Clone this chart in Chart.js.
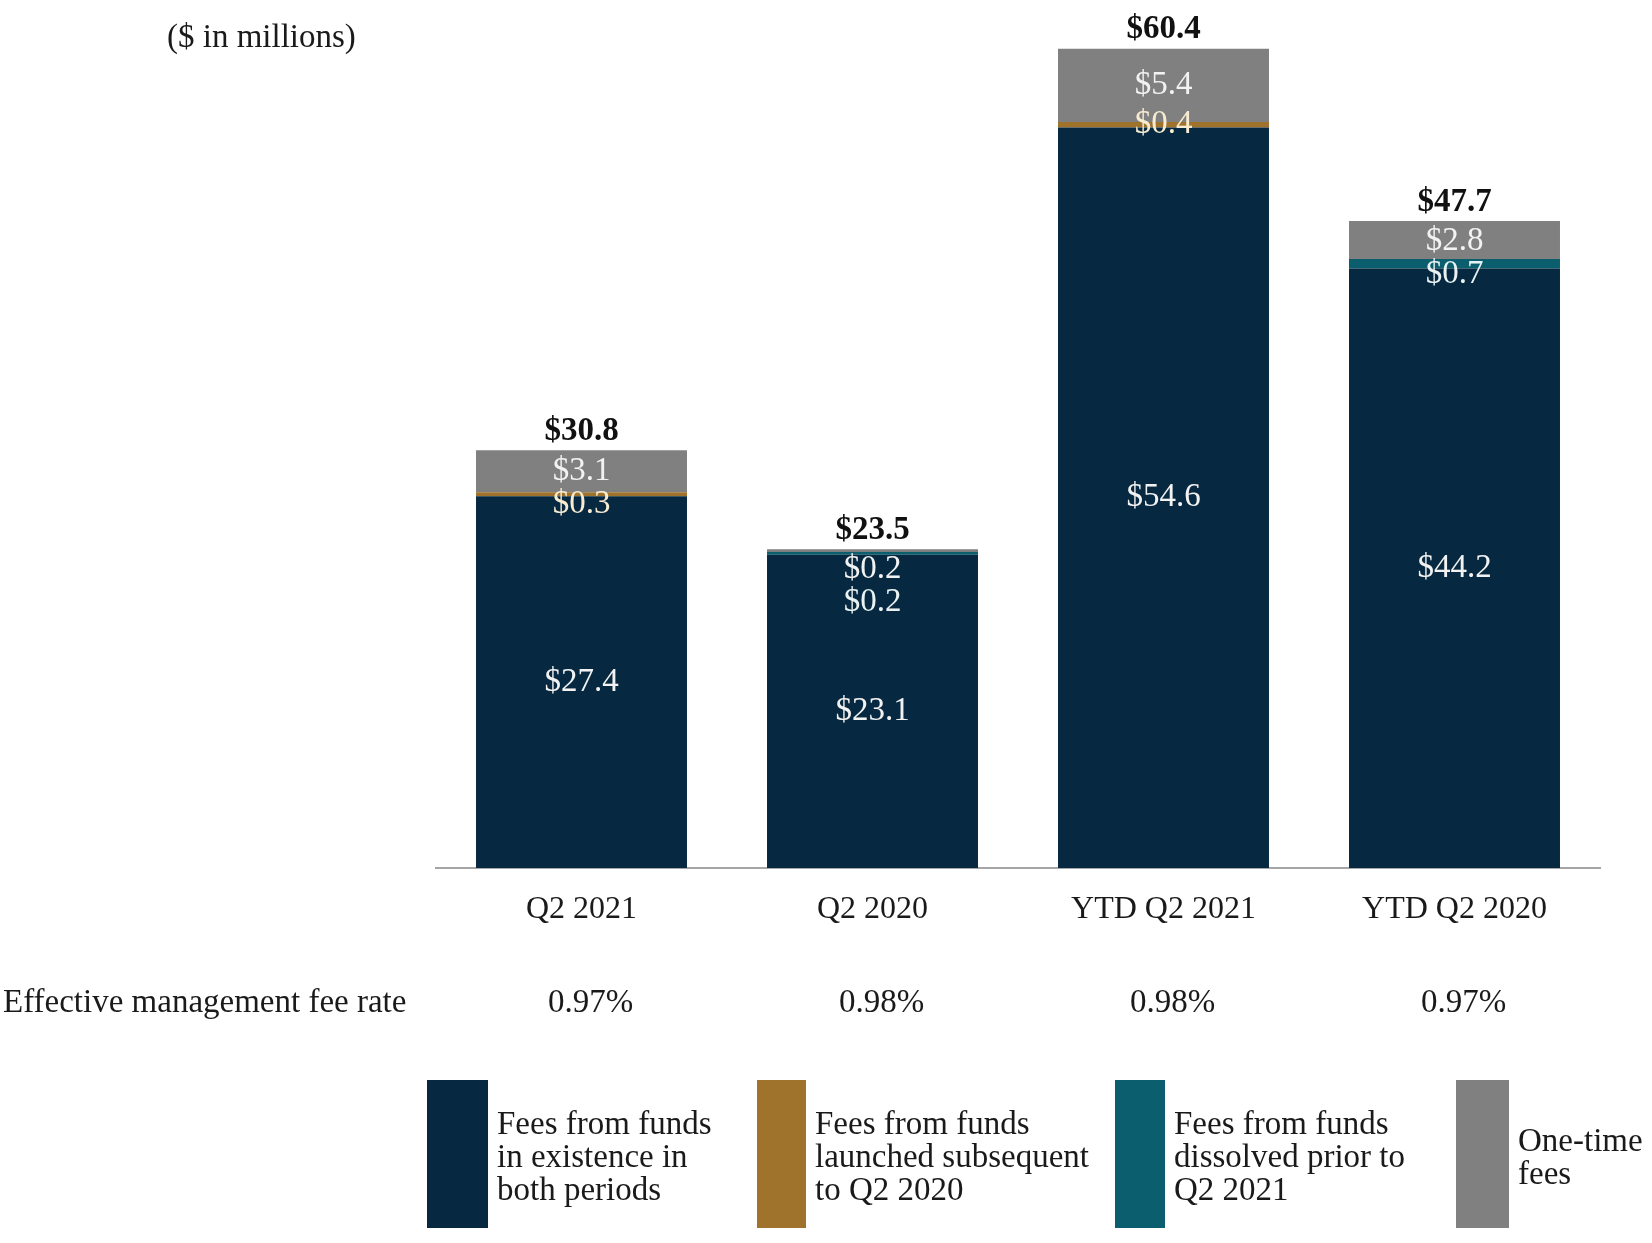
<!DOCTYPE html>
<html>
<head>
<meta charset="utf-8">
<style>
  html, body { margin: 0; padding: 0; background: #ffffff; }
  #wrap { width: 1652px; height: 1243px; position: relative; }
</style>
<script src="https://cdn.jsdelivr.net/npm/chart.js@4.4.0/dist/chart.umd.min.js"></script>
</head>
<body>
<div id="wrap"><canvas id="c" width="1652" height="1243"></canvas></div>
<script>
// ---- data ----
const categories = ["Q2 2021", "Q2 2020", "YTD Q2 2021", "YTD Q2 2020"];
const feesExisting  = [27.4, 23.1, 54.6, 44.2];
const feesLaunched  = [0.3, null, 0.4, null];
const feesDissolved = [null, 0.2, null, 0.7];
const feesOneTime   = [3.1, 0.2, 5.4, 2.8];
const totals        = [30.8, 23.5, 60.4, 47.7];
const feeRates      = ["0.97%", "0.98%", "0.98%", "0.97%"];
const seriesNames = [
  "Fees from funds in existence in both periods",
  "Fees from funds launched subsequent to Q2 2020",
  "Fees from funds dissolved prior to Q2 2021",
  "One-time fees"
];
const legendLines = [
  ["Fees from funds", "in existence in", "both periods"],
  ["Fees from funds", "launched subsequent", "to Q2 2020"],
  ["Fees from funds", "dissolved prior to", "Q2 2021"],
  ["One-time", "fees"]
];
const unitNote = "($ in millions)";
const rateRowLabel = "Effective management fee rate";

// ---- styles ----
const COLORS = ["#062840", "#a0732d", "#0b5e6d", "#808080"];
const LABEL_COLORS = ["#f2f2f2", "#f7ecd2", "#e8f2f2", "#f2f2f2"];
const FONT = "'Liberation Serif', 'Times New Roman', serif";

const fmt = v => "$" + v.toFixed(1);

const labelPlugin = {
  id: "segLabels",
  afterDatasetsDraw(chart) {
    const ctx = chart.ctx;
    ctx.save();
    ctx.textAlign = "center";
    ctx.textBaseline = "middle";
    const n = categories.length;
    for (let i = 0; i < n; i++) {
      let top = Infinity, x = 0;
      chart.data.datasets.forEach((ds, d) => {
        const el = chart.getDatasetMeta(d).data[i];
        if (ds.data[i] != null && el) { top = Math.min(top, el.y); x = el.x; }
      });
      // small segment labels, from the top of the stack downward
      let prevY = null;
      for (let d = chart.data.datasets.length - 1; d >= 1; d--) {
        const ds = chart.data.datasets[d];
        const v = ds.data[i];
        if (v == null) continue;
        const el = chart.getDatasetMeta(d).data[i];
        let y = (el.y + el.base) / 2;
        if (prevY === null) y = Math.max(y, top + 20);
        else y = Math.max(y, prevY + 33);
        prevY = y;
        ctx.font = "33px " + FONT;
        ctx.fillStyle = LABEL_COLORS[d];
        ctx.fillText(fmt(v), el.x, y);
      }
      // main segment
      const el0 = chart.getDatasetMeta(0).data[i];
      ctx.font = "33px " + FONT;
      ctx.fillStyle = LABEL_COLORS[0];
      ctx.fillText(fmt(chart.data.datasets[0].data[i]), el0.x, (el0.y + el0.base) / 2);
      // total
      ctx.font = "bold 33px " + FONT;
      ctx.fillStyle = "#111111";
      ctx.fillText(fmt(totals[i]), x, top - 19);
    }
    ctx.restore();
  },
  afterDraw(chart) {
    const ctx = chart.ctx;
    const xs = chart.scales.x;
    ctx.save();
    ctx.fillStyle = "#1a1a1a";
    ctx.textBaseline = "middle";
    ctx.font = "33px " + FONT;
    ctx.textAlign = "left";
    ctx.fillText(unitNote, 167, 38);
    ctx.fillText(rateRowLabel, 3, 1003);
    ctx.textAlign = "center";
    feeRates.forEach((r, i) => {
      ctx.fillText(r, xs.getPixelForValue(i) + 9, 1003);
    });
    // legend
    const sw = [{x: 427, w: 61}, {x: 757, w: 49}, {x: 1115, w: 50}, {x: 1456, w: 53}];
    const tx = [497, 815, 1174, 1518];
    const y0 = 1080, h = 148;
    ctx.textAlign = "left";
    legendLines.forEach((lines, k) => {
      ctx.fillStyle = COLORS[k];
      ctx.fillRect(sw[k].x, y0, sw[k].w, h);
      ctx.fillStyle = "#1a1a1a";
      const lh = 33;
      const startY = (lines.length === 3) ? 1125 : 1142;
      lines.forEach((ln, j) => ctx.fillText(ln, tx[k], startY + j * lh));
    });
    ctx.restore();
  }
};

const seriesData = [feesExisting, feesLaunched, feesDissolved, feesOneTime];

new Chart(document.getElementById("c"), {
  type: "bar",
  data: {
    labels: categories,
    datasets: seriesData.map((arr, k) => ({
      label: seriesNames[k],
      data: arr,
      backgroundColor: COLORS[k],
      borderWidth: 0,
      categoryPercentage: 1.0,
      barPercentage: 0.725
    }))
  },
  options: {
    responsive: false,
    animation: false,
    devicePixelRatio: 1,
    layout: { padding: { left: 436, right: 52, top: 27, bottom: 0 } },
    plugins: { legend: { display: false }, tooltip: { enabled: false } },
    scales: {
      x: {
        stacked: true,
        grid: { display: false, drawTicks: false },
        border: { display: true, color: "#a6a6a6", width: 2 },
        ticks: { color: "#1a1a1a", font: { family: FONT, size: 32 }, padding: 22, maxRotation: 0, autoSkip: false },
        afterFit(scale) { scale.height = 375; }
      },
      y: {
        stacked: true,
        display: false,
        min: 0,
        max: 62
      }
    }
  },
  plugins: [labelPlugin]
});
</script>
</body>
</html>
